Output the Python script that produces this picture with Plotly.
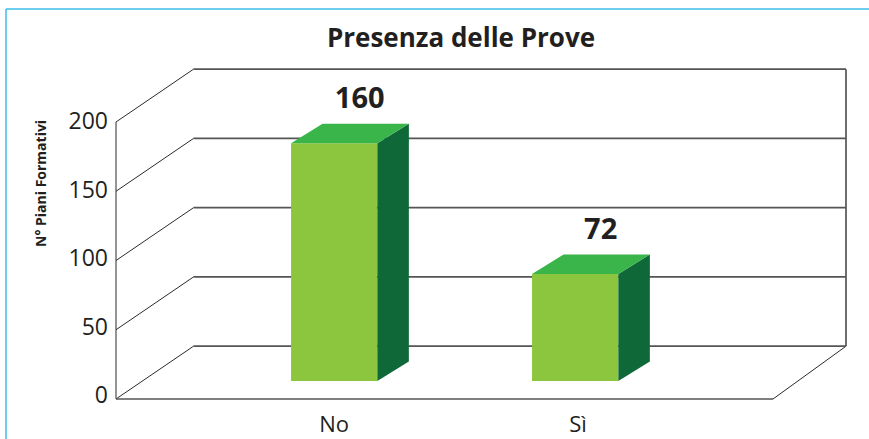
import plotly.graph_objects as go

categories = ["No", "Sì"]
values = [160, 72]
y_ticks = [0, 50, 100, 150, 200]

W, H = 869, 439

# the picture is a fake 3d box, so every axis fills the whole canvas and
# only differs by where its zero sits and how many px one unit takes
def value_range(zero_px, px_per_unit):
    return [(zero_px - H) / px_per_unit, zero_px / px_per_unit]

CAT_ZERO, CAT_STEP = 334.2, 241.0
def to_x(px):
    return (px - CAT_ZERO) / CAT_STEP

# frame (wall and floor)
FRAME_ZERO, FRAME_SCALE = 399.0, 1.385
LEFT_FRONT, LEFT_BACK, RIGHT_FRONT, RIGHT_BACK = 116.0, 193.5, 773.0, 846.0
WALL_DEPTH = 52.8 / FRAME_SCALE

slant_x, slant_y, wall_x, wall_y = [], [], [], []
for v in y_ticks:
    slant_x += [to_x(LEFT_FRONT), to_x(LEFT_BACK), None]
    slant_y += [v, v + WALL_DEPTH, None]
    wall_x += [to_x(LEFT_BACK), to_x(RIGHT_BACK), None]
    wall_y += [v + WALL_DEPTH, v + WALL_DEPTH, None]
# left axis and the floor's right edge
slant_x += [to_x(LEFT_FRONT), to_x(LEFT_FRONT), None, to_x(RIGHT_FRONT), to_x(RIGHT_BACK)]
slant_y += [0, y_ticks[-1], None, 0, WALL_DEPTH]
# floor front edge and right wall
wall_x += [to_x(LEFT_FRONT), to_x(RIGHT_FRONT), None, to_x(RIGHT_BACK), to_x(RIGHT_BACK)]
wall_y += [0, 0, None, WALL_DEPTH, y_ticks[-1] + WALL_DEPTH]

# bars
BAR_ZERO, BAR_SCALE = 381.0, 1.486
BAR_W = 86.3 / CAT_STEP
DX = 31.5 / CAT_STEP
DY = 19.5 / BAR_SCALE
LABEL_LIFT = 8 / BAR_SCALE

FRONT, TOP, SIDE = "#8cc63f", "#39b54a", "#0e6838"
TEXT = "#231f20"
FONT = "Open Sans"

fig = go.Figure()

fig.add_trace(go.Scatter(x=slant_x, y=slant_y, mode="lines", yaxis="y",
                         line=dict(color="#2b2b2b", width=1), hoverinfo="skip"))
fig.add_trace(go.Scatter(x=wall_x, y=wall_y, mode="lines", yaxis="y",
                         line=dict(color="#555555", width=1.7), hoverinfo="skip"))

# invisible, only keeps the tick label axis alive
fig.add_trace(go.Scatter(x=[0] * len(y_ticks), y=y_ticks, mode="markers", yaxis="y2",
                         marker=dict(opacity=0), hoverinfo="skip"))

fig.add_trace(go.Bar(x=[0, 1], y=values, width=BAR_W, yaxis="y3",
                     marker=dict(color=FRONT, line=dict(width=0))))

for i, v in enumerate(values):
    l, r = i - BAR_W / 2, i + BAR_W / 2
    fig.add_trace(go.Scatter(x=[r, r + DX, r + DX, r, r], y=[0, DY, v + DY, v, 0],
                             mode="lines", fill="toself", fillcolor=SIDE, yaxis="y3",
                             line=dict(width=0), hoverinfo="skip"))
    fig.add_trace(go.Scatter(x=[l, l + DX, r + DX, r, l], y=[v, v + DY, v + DY, v, v],
                             mode="lines", fill="toself", fillcolor=TOP, yaxis="y3",
                             line=dict(width=0), hoverinfo="skip"))

fig.add_trace(go.Scatter(x=[i + 25.5 / CAT_STEP for i in range(len(values))],
                         y=[v + DY + LABEL_LIFT for v in values],
                         text=[str(v) for v in values], mode="text",
                         textposition="top center", yaxis="y3",
                         textfont=dict(family=FONT, size=29, color=TEXT, weight="bold"),
                         hoverinfo="skip"))

fig.update_layout(
    width=W, height=H,
    margin=dict(l=0, r=0, t=0, b=0),
    paper_bgcolor="white", plot_bgcolor="white",
    showlegend=False,
    title=dict(text="<b>Presenza delle Prove</b>", x=461 / W, y=1 - 38 / H,
               xanchor="center", yanchor="middle",
               font=dict(family=FONT, size=26, color=TEXT)),
    xaxis=dict(range=[to_x(0), to_x(W)], tickvals=[0, 1.012], ticktext=categories,
               anchor="free", position=(H - 409) / H, showgrid=False, zeroline=False,
               showline=False, tickfont=dict(family=FONT, size=22, color=TEXT)),
    yaxis=dict(range=value_range(FRAME_ZERO, FRAME_SCALE), visible=False),
    yaxis2=dict(range=value_range(395, 1.37), overlaying="y", anchor="free",
                position=108 / W, tickvals=y_ticks, showgrid=False, zeroline=False,
                showline=False, tickfont=dict(family=FONT, size=23, color=TEXT)),
    yaxis3=dict(range=value_range(BAR_ZERO, BAR_SCALE), overlaying="y", visible=False),
    annotations=[dict(text="<b>N° Piani Formativi</b>", xref="paper", yref="paper",
                      x=40 / W, y=1 - 184 / H, xanchor="center", yanchor="middle",
                      textangle=-90, showarrow=False,
                      font=dict(family=FONT, size=14, color=TEXT))],
    # the light blue page border of the source
    shapes=[dict(type="line", xref="paper", yref="paper", x0=6 / W, x1=6 / W, y0=0, y1=1 - 9 / H,
                 line=dict(color="#3dbde8", width=1.5)),
            dict(type="line", xref="paper", yref="paper", x0=6 / W, x1=1, y0=1 - 9 / H, y1=1 - 9 / H,
                 line=dict(color="#3dbde8", width=1.5))],
)

fig.write_html("out.html", config={"displayModeBar": False},
               post_script="document.body.style.margin='0';")
